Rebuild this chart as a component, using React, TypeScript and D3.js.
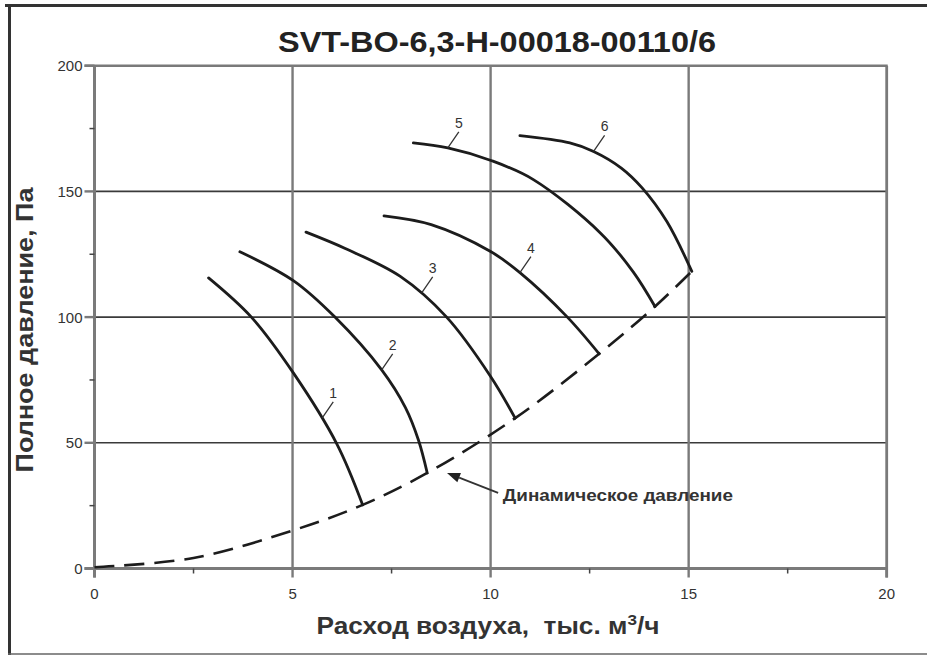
import React from 'react';
import * as d3 from 'd3';

const W = 927;
const H = 657;

const titleText = 'SVT-BO-6,3-H-00018-00110/6';
const xLabelMain = 'Расход воздуха,  тыс. м';
const xLabelSup = '3';
const xLabelTail = '/ч';
const yLabelText = 'Полное давление, Па';
const annotationText = 'Динамическое давление';

const xMajor = [0, 5, 10, 15, 20];
const xMinor = [2.5, 7.5, 12.5, 17.5];
const yMajor = [0, 50, 100, 150, 200];
const yMinor = [25, 75, 125, 175];

// fan curves: flow (thousand m3/h) and total pressure (Pa)
const curve1X = [2.88, 3.96, 5.02, 6.12, 6.77];
const curve1P = [115.6, 100, 77.8, 49.5, 25.3];
const curve2X = [3.67, 5.02, 6.07, 7.25, 7.85, 8.18, 8.4];
const curve2P = [126, 114.5, 100, 79, 64, 51, 38];
const curve3X = [5.34, 6.33, 7.72, 8.89, 10.0, 10.62];
const curve3P = [133.8, 127.3, 116.2, 100, 76.4, 59.8];
const curve4X = [7.31, 8.5, 10.0, 10.74, 11.92, 12.74];
const curve4P = [140.3, 136.8, 126.1, 117.7, 100.3, 85.4];
const curve5X = [8.05, 8.92, 10.01, 11.08, 12.77, 13.6, 14.15];
const curve5P = [169.3, 167.3, 162.3, 154.7, 133.5, 118, 104.2];
const curve6X = [10.74, 12.0, 12.6, 13.3, 13.82, 14.45, 15.08];
const curve6P = [172.2, 169.3, 165.9, 159.3, 151.5, 138, 118.2];

// dynamic pressure (dashed)
const dynX = [0, 2.5, 5.02, 6.77, 8.4, 10.62, 12.74, 14.15, 15.08];
const dynP = [0.5, 4.2, 15.2, 25.3, 38, 59.8, 85.4, 104.2, 118.2];

const curveNames = ['1', '2', '3', '4', '5', '6'];
const curveXs = [curve1X, curve2X, curve3X, curve4X, curve5X, curve6X];
const curvePs = [curve1P, curve2P, curve3P, curve4P, curve5P, curve6P];
// x of each curve label's leader anchor
const labelAnchorX = [5.75, 7.25, 8.26, 10.74, 8.92, 12.6];

// annotation arrow (data coords)
const arrowTip = [8.9, 38];
const arrowTail = [10.19, 30.1];
const annotationPos = [10.31, 27.0];

const FONT = '"Liberation Sans", Arial, Helvetica, sans-serif';

export default function App() {
  const x = d3.scaleLinear().domain([0, 20]).range([94.5, 886.7]);
  const y = d3.scaleLinear().domain([0, 200]).range([568.5, 65.7]);
  const line = d3
    .line<[number, number]>()
    .x((d) => x(d[0]))
    .y((d) => y(d[1]))
    .curve(d3.curveCatmullRom.alpha(0.5));

  const gridGray = '#7a7a7a';
  const ink = '#1c1c1c';

  const tipX = x(arrowTip[0]);
  const tipY = y(arrowTip[1]);
  const tailX = x(arrowTail[0]);
  const tailY = y(arrowTail[1]);
  const ang = Math.atan2(tailY - tipY, tailX - tipX);
  const ah = 13;
  const aw = 5;
  const bx = tipX + ah * Math.cos(ang);
  const by = tipY + ah * Math.sin(ang);
  const arrowHead = `M${tipX},${tipY} L${bx + aw * Math.sin(ang)},${by - aw * Math.cos(ang)} L${bx - aw * Math.sin(ang)},${by + aw * Math.cos(ang)} Z`;

  // find point on rendered curve path at a given x (for label leaders)
  const anchorY = (ci: number, xv: number) => {
    const pts = curveXs[ci].map((v, i) => [v, curvePs[ci][i]] as [number, number]);
    const d = line(pts) || '';
    if (typeof document === 'undefined') return y(0);
    const p = document.createElementNS('http://www.w3.org/2000/svg', 'path');
    p.setAttribute('d', d);
    const len = p.getTotalLength();
    const target = x(xv);
    let lo = 0;
    let hi = len;
    for (let k = 0; k < 30; k++) {
      const mid = (lo + hi) / 2;
      if (p.getPointAtLength(mid).x < target) lo = mid;
      else hi = mid;
    }
    return p.getPointAtLength((lo + hi) / 2).y;
  };

  return (
    <svg
      width={W}
      height={H}
      style={{ position: 'absolute', left: 0, top: 0, background: '#fff' }}
      fontFamily={FONT}
    >
      <rect x={0} y={0} width={W} height={H} fill="#fff" />
      {/* frame */}
      <line x1={5} y1={5.5} x2={W} y2={5.5} stroke="#333" strokeWidth={3} />
      <line x1={9.5} y1={4} x2={9.5} y2={655} stroke="#333" strokeWidth={3} />
      <line x1={8} y1={654} x2={W} y2={654} stroke="#666" strokeWidth={1.5} />

      {/* title */}
      <text
        x={497}
        y={52}
        textAnchor="middle"
        fontSize={30}
        fontWeight="bold"
        fill="#222"
        textLength={438}
        lengthAdjust="spacingAndGlyphs"
      >
        {titleText}
      </text>

      {/* horizontal grid */}
      {yMajor.filter((v) => v > 0 && v < 200).map((v) => (
        <line key={'hg' + v} x1={x(0)} x2={x(20)} y1={y(v)} y2={y(v)} stroke="#3a3a3a" strokeWidth={1.6} />
      ))}
      {/* vertical grid */}
      {xMajor.filter((v) => v > 0 && v < 20).map((v) => (
        <line key={'vg' + v} x1={x(v)} x2={x(v)} y1={y(200)} y2={y(0)} stroke={gridGray} strokeWidth={2.4} />
      ))}
      {/* top and right border */}
      <line x1={x(0) - 10} x2={x(20) + 1} y1={y(200)} y2={y(200)} stroke={gridGray} strokeWidth={2.4} />
      <line x1={x(20)} x2={x(20)} y1={y(200)} y2={y(0) + 9} stroke={gridGray} strokeWidth={2.8} />

      {/* axes */}
      <line x1={x(0) - 10} x2={x(20)} y1={y(0)} y2={y(0)} stroke={gridGray} strokeWidth={3} />
      <line x1={x(0)} x2={x(0)} y1={y(200)} y2={y(0) + 9} stroke={gridGray} strokeWidth={3} />

      {/* ticks */}
      {xMajor.map((v) => (
        <line key={'xt' + v} x1={x(v)} x2={x(v)} y1={y(0)} y2={y(0) + 9} stroke={gridGray} strokeWidth={2.4} />
      ))}
      {xMinor.map((v) => (
        <line key={'xm' + v} x1={x(v)} x2={x(v)} y1={y(0)} y2={y(0) + 5} stroke="#444" strokeWidth={1.5} />
      ))}
      {yMajor.map((v) => (
        <line key={'yt' + v} x1={x(0) - 10} x2={x(0)} y1={y(v)} y2={y(v)} stroke={gridGray} strokeWidth={2.4} />
      ))}
      {yMinor.map((v) => (
        <line key={'ym' + v} x1={x(0) - 5} x2={x(0)} y1={y(v)} y2={y(v)} stroke="#444" strokeWidth={1.5} />
      ))}

      {/* tick labels */}
      {xMajor.map((v) => (
        <text key={'xl' + v} x={x(v)} y={y(0) + 30} textAnchor="middle" fontSize={15} fill="#333">
          {v}
        </text>
      ))}
      {yMajor.map((v) => (
        <text key={'yl' + v} x={x(0) - 12} y={y(v) + 5.5} textAnchor="end" fontSize={15} fill="#333">
          {v}
        </text>
      ))}

      {/* dynamic pressure */}
      <path
        d={line(dynX.map((v, i) => [v, dynP[i]]) as [number, number][]) || ''}
        fill="none"
        stroke={ink}
        strokeWidth={2.6}
        strokeDasharray="20 10"
      />

      {/* fan curves */}
      {curveXs.map((xs, ci) => (
        <path
          key={'c' + ci}
          d={line(xs.map((v, i) => [v, curvePs[ci][i]]) as [number, number][]) || ''}
          fill="none"
          stroke={ink}
          strokeWidth={2.8}
          strokeLinecap="round"
        />
      ))}

      {/* curve labels */}
      {curveNames.map((name, ci) => {
        const ax = x(labelAnchorX[ci]);
        const ay = anchorY(ci, labelAnchorX[ci]);
        return (
          <g key={'lab' + ci}>
            <line x1={ax} y1={ay} x2={ax + 11} y2={ay - 16} stroke="#333" strokeWidth={1.3} />
            <text x={ax + 11} y={ay - 20} textAnchor="middle" fontSize={14} fill="#333">
              {name}
            </text>
          </g>
        );
      })}

      {/* annotation */}
      <line x1={bx} y1={by} x2={tailX} y2={tailY} stroke="#333" strokeWidth={1.8} />
      <path d={arrowHead} fill="#222" />
      <text
        x={x(annotationPos[0])}
        y={y(annotationPos[1])}
        fontSize={16}
        fontWeight="bold"
        fill="#333"
        textLength={230}
        lengthAdjust="spacingAndGlyphs"
      >
        {annotationText}
      </text>

      {/* axis titles */}
      <text
        x={488}
        y={634}
        textAnchor="middle"
        fontSize={23}
        fontWeight="bold"
        fill="#333"
        style={{ whiteSpace: 'pre' }}
        textLength={343}
        lengthAdjust="spacingAndGlyphs"
      >
        {xLabelMain}
        <tspan fontSize={15} dy={-9}>
          {xLabelSup}
        </tspan>
        <tspan fontSize={23} dy={9}>
          {xLabelTail}
        </tspan>
      </text>
      <text
        transform={`translate(33,330) rotate(-90)`}
        textAnchor="middle"
        fontSize={23}
        fontWeight="bold"
        fill="#333"
        textLength={285}
        lengthAdjust="spacingAndGlyphs"
      >
        {yLabelText}
      </text>
    </svg>
  );
}
